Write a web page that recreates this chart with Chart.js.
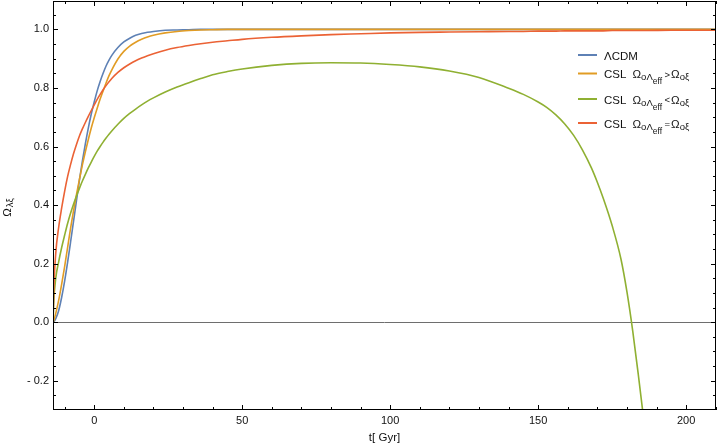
<!DOCTYPE html>
<html><head><meta charset="utf-8">
<script src="https://cdn.jsdelivr.net/npm/chart.js@4/dist/chart.umd.min.js"></script>
<style>html,body{margin:0;padding:0;background:#fff;overflow:hidden}#wrap{width:717px;height:448px;position:relative}</style>
</head><body><div id="wrap"><canvas id="c" width="717" height="448"></canvas></div>
<script>
// time in Gyr (x axis)
const time = [-13.9,-13.7,-13,-12,-11,-10,-9,-8,-7,-6,-5,-4,-3,-2,-1,0,1,2,3,4,5,6,8,10,12,14,16,18,20,24,28,32,
  36,40,45,50,60,70,80,90,100,110,120,
  130,140,145,150,153,156,159,162,165,168,170,172,175,178,180,182,184,186,195,210];
// ΛCDM
const lcdm = [0,0.001,0.012,0.04,0.085,0.14,0.204,0.273,0.344,0.415,0.485,0.55,0.609,0.663,0.711,0.752,0.79,0.822,0.85,0.875,0.895,0.912,0.938,0.957,0.97,0.98,0.986,0.99,0.993,0.997,0.998,0.999,
  1,1,1,1,1,1,1,1,1,1,1,
  1,1,1,1,1,1,1,1,1,1,1,1,1,1,1,1,1,1,1,1];
// CSL  Ω0Λeff > Ω0ξ
const cslGreater = [0,0.004,0.03,0.075,0.13,0.19,0.255,0.32,0.38,0.436,0.488,0.537,0.582,0.624,0.663,0.698,0.731,0.762,0.79,0.817,0.842,0.863,0.899,0.925,0.943,0.956,0.966,0.974,0.98,0.988,0.993,0.996,
  0.998,0.999,1,1,1,1,1,1,1,1,1,
  1,1,1,1,1,1,1,1,1,1,1,1,1,1,1,1,1,1,1,1];
// CSL  Ω0Λeff < Ω0ξ
const cslLess = [0,0.065,0.15,0.207,0.255,0.297,0.337,0.372,0.403,0.431,0.457,0.482,0.505,0.527,0.547,0.566,0.584,0.6,0.615,0.629,0.642,0.654,0.676,0.696,0.713,0.728,0.742,0.755,0.766,0.786,0.803,0.818,
  0.832,0.845,0.856,0.865,0.877,0.884,0.886,0.885,0.88,0.872,0.858,
  0.836,0.799,0.778,0.752,0.733,0.708,0.677,0.638,0.588,0.527,0.478,0.423,0.33,0.215,0.104,-0.033,-0.192,-0.36,null,null];
// CSL  Ω0Λeff = Ω0ξ
const cslEqual = [0,0.1,0.235,0.325,0.39,0.447,0.497,0.538,0.575,0.607,0.636,0.66,0.682,0.703,0.723,0.742,0.761,0.778,0.794,0.808,0.821,0.833,0.853,0.869,0.882,0.893,0.902,0.91,0.917,0.929,0.938,0.945,
  0.951,0.956,0.961,0.966,0.973,0.978,0.982,0.985,0.988,0.99,0.991,
  0.992,0.993,0.993,0.994,0.994,0.994,0.995,0.995,0.995,0.995,0.995,0.995,0.996,0.996,0.996,0.996,0.996,0.996,0.997,0.997];

const xTicks = [0,50,100,150,200];
const yTicks = [-0.2,0,0.2,0.4,0.6,0.8,1.0];
const xTitle = 't[ Gyr]';
const colors = ['#5E81B5','#E19C24','#8FB032','#EB6235'];
const legendRelations = [null,'>','<','='];

const FONT = '"Liberation Sans", Arial, sans-serif';

function pts(arr){ return time.map((t,i)=>({x:t,y:arr[i]})); }

function drawRich(ctx, x, y, segs){
  for (const s of segs){
    if (s.x !== undefined) x = s.x;
    x += (s.gap||0);
    ctx.font = (s.size||11) + 'px ' + FONT;
    ctx.fillText(s.t, x, y + (s.dy||0));
    x += ctx.measureText(s.t).width;
  }
  return x;
}

const decor = {
  id: 'decor',
  beforeDatasetsDraw(chart){
    const {ctx, chartArea:a, scales:{y}} = chart;
    ctx.save();
    const y0 = Math.round(y.getPixelForValue(0)) + 0.5;
    ctx.strokeStyle = '#6e6e6e'; ctx.lineWidth = 1;
    ctx.beginPath(); ctx.moveTo(a.left, y0); ctx.lineTo(a.right, y0); ctx.stroke();
    ctx.restore();
  },
  afterDraw(chart){
    const {ctx, chartArea:a, scales:{x, y}} = chart;
    ctx.save();
    ctx.strokeStyle = '#000'; ctx.lineWidth = 1;
    ctx.strokeRect(a.left+0.5, a.top+0.5, a.right-a.left-1, a.bottom-a.top-1);
    ctx.beginPath();
    for (let v = -10; v <= 210; v += 10){
      const px = Math.round(x.getPixelForValue(v)) + 0.5;
      const len = (v % 50 === 0) ? 5 : 3;
      ctx.moveTo(px, a.bottom); ctx.lineTo(px, a.bottom - len);
      ctx.moveTo(px, a.top); ctx.lineTo(px, a.top + len);
    }
    for (let k = -5; k <= 21; k++){
      const py = Math.round(y.getPixelForValue(k*0.05)) + 0.5;
      const len = (k % 4 === 0) ? 5 : 3;
      ctx.moveTo(a.left, py); ctx.lineTo(a.left + len, py);
      ctx.moveTo(a.right, py); ctx.lineTo(a.right - len, py);
    }
    ctx.stroke();

    // y-axis title Ω_{λξ}
    ctx.fillStyle = '#111';
    ctx.translate(11, 208);
    ctx.rotate(-Math.PI/2);
    ctx.font = '11.5px ' + FONT;
    const w1 = ctx.measureText('Ω').width;
    ctx.font = '9.5px ' + FONT;
    const w2 = ctx.measureText('λξ').width;
    const sx = -(w1 + w2)/2;
    ctx.textBaseline = 'alphabetic';
    ctx.font = '11.5px ' + FONT; ctx.fillText('Ω', sx, 0);
    ctx.font = '9.5px ' + FONT; ctx.fillText('λξ', sx + w1 + 1, 2);
    ctx.setTransform(1,0,0,1,0,0);

    // legend
    const rowsY = [55, 73.5, 99, 123];
    ctx.textBaseline = 'alphabetic';
    ctx.textAlign = 'left';
    rowsY.forEach((ry, i) => {
      ctx.strokeStyle = colors[i]; ctx.lineWidth = 2;
      ctx.beginPath(); ctx.moveTo(578, ry); ctx.lineTo(597, ry); ctx.stroke();
      ctx.fillStyle = '#111';
      const base = ry + 4.5;
      if (legendRelations[i] === null){
        drawRich(ctx, 604, base, [{t:'ΛCDM', size:11.5}]);
      } else {
        drawRich(ctx, 604, base, [
          {t:'CSL', size:11.5},
          {t:'Ω', x:632.5, size:11.5},
          {t:'o', size:9.5, dy:2},
          {t:'Λ', size:9.5, dy:2},
          {t:'eff', size:8.5, dy:6},
          {t:legendRelations[i], size:9.5, gap:2.5, dy:-0.5},
          {t:'Ω', size:11.5, gap:1},
          {t:'o', size:9.5, dy:2},
          {t:'ξ', size:9.5, dy:2}
        ]);
      }
    });
    ctx.restore();
  }
};

const names = ['ΛCDM','CSL Ω0Λeff > Ω0ξ','CSL Ω0Λeff < Ω0ξ','CSL Ω0Λeff = Ω0ξ'];
const series = [lcdm, cslGreater, cslLess, cslEqual];

new Chart(document.getElementById('c'), {
  type: 'line',
  data: {
    datasets: series.map((s,i)=>({
      label: names[i],
      data: pts(s),
      borderColor: colors[i],
      backgroundColor: colors[i],
      borderWidth: 1.6,
      pointRadius: 0,
      cubicInterpolationMode: 'monotone',
      fill: false,
      order: 4 - i
    }))
  },
  options: {
    responsive: false,
    animation: false,
    devicePixelRatio: 1,
    layout: { padding: { top: 1, right: 1, left: 0, bottom: 0 } },
    plugins: { legend: { display: false }, tooltip: { enabled: false } },
    scales: {
      x: {
        type: 'linear', min: -13.93, max: 210.1,
        afterBuildTicks: s => { s.ticks = xTicks.map(v => ({value: v})); },
        afterFit: s => { s.height = 38; s.paddingLeft = 0; s.paddingRight = 0; },
        grid: { display: false, drawTicks: false },
        border: { display: false },
        ticks: { color: '#111', padding: 4, maxRotation: 0, autoSkip: false,
                 font: { family: FONT, size: 11 }, callback: v => String(v) },
        title: { display: true, text: xTitle, color: '#111',
                 font: { family: FONT, size: 11.5 }, padding: { top: 0, bottom: 3 } }
      },
      y: {
        type: 'linear', min: -0.3, max: 1.097,
        afterBuildTicks: s => { s.ticks = yTicks.map(v => ({value: v})); },
        afterFit: s => { s.width = 53; s.paddingTop = 0; s.paddingBottom = 0; },
        grid: { display: false, drawTicks: false },
        border: { display: false },
        ticks: { color: '#111', padding: 4, autoSkip: false,
                 font: { family: FONT, size: 11 },
                 callback: v => v < 0 ? '- ' + Math.abs(v).toFixed(1) : v.toFixed(1) }
      }
    }
  },
  plugins: [decor]
});
</script>
</body></html>
